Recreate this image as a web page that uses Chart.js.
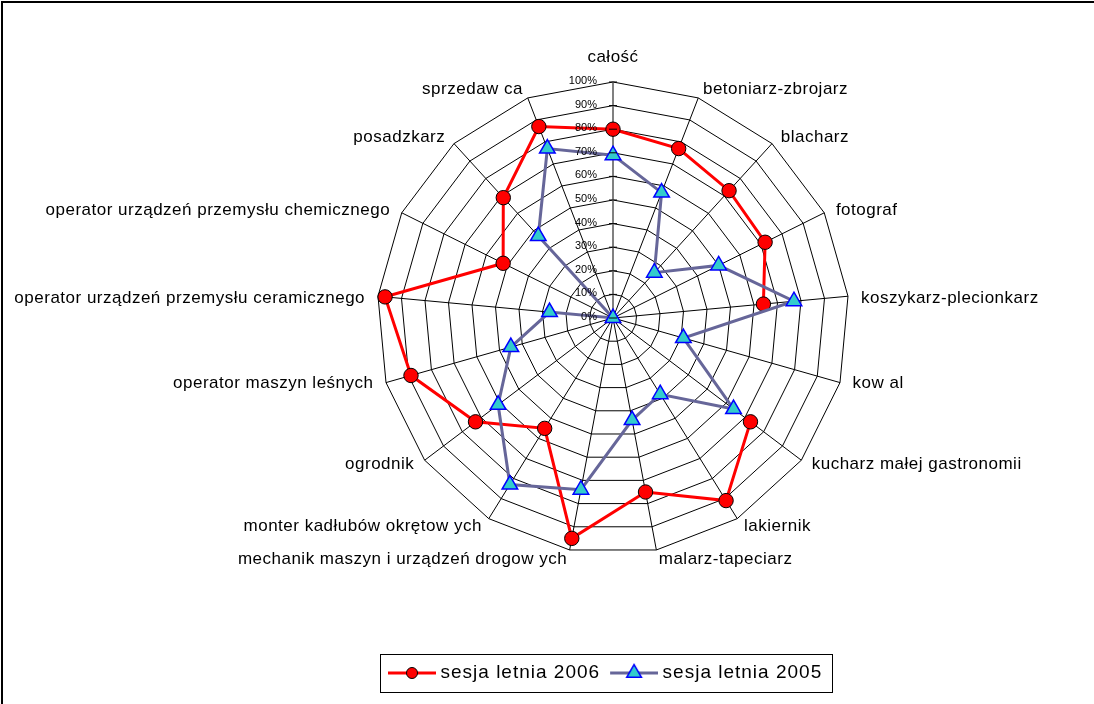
<!DOCTYPE html>
<html>
<head>
<meta charset="utf-8">
<script src="https://cdn.jsdelivr.net/npm/chart.js@4.4.0/dist/chart.umd.min.js"></script>
<style>
html, body { margin: 0; padding: 0; background: #fff; }
canvas { display: block; }
</style>
</head>
<body>
<canvas id="radarChart" width="1094" height="704"></canvas>
<script>
//CATEGORIES (CLOCKWISE FROM THE TOP)
const categories = [
	"całość",
	"betoniarz-zbrojarz",
	"blacharz",
	"fotograf",
	"koszykarz-plecionkarz",
	"kow al",
	"kucharz małej gastronomii",
	"lakiernik",
	"malarz-tapeciarz",
	"mechanik maszyn i urządzeń drogow ych",
	"monter kadłubów okrętow ych",
	"ogrodnik",
	"operator maszyn leśnych",
	"operator urządzeń przemysłu ceramicznego",
	"operator urządzeń przemysłu chemicznego",
	"posadzkarz",
	"sprzedaw ca",
];
//SERIES VALUES IN %
const session2006 = [80, 77, 73, 72, 64, null, 73, 91, 75, 95, 55, 73, 89, 97, 52, 69, 87];
const session2005 = [69, 57, 26, 50, 77, 31, 64, 38, 44, 74, 83, 61, 45, 27, 0, 47, 77];
const seriesNames = ["sesja letnia 2006", "sesja letnia 2005"];
//VALUE AXIS
const tickValues = [0, 10, 20, 30, 40, 50, 60, 70, 80, 90, 100];
const tickLabels = ["0%", "10%", "20%", "30%", "40%", "50%", "60%", "70%", "80%", "90%", "100%"];

const FONT = '"Liberation Sans", Arial, sans-serif';
Chart.defaults.font.family = FONT;

//  LEGEND SYMBOLS (LINE WITH MARKER)
const legendSymbol = (lineColor, pointOpts, fill, stroke) => {
	const cv = document.createElement("canvas");
	cv.width = 60;
	cv.height = 20;
	const g = cv.getContext("2d");
	g.strokeStyle = lineColor;
	g.lineWidth = 3;
	g.beginPath();
	g.moveTo(12, 10);
	g.lineTo(60, 10);
	g.stroke();
	g.fillStyle = fill;
	g.strokeStyle = stroke;
	g.lineWidth = pointOpts.borderWidth;
	Chart.helpers.drawPoint(g, pointOpts, 36, 10);
	return cv;
};
const symbols = [
	legendSymbol("#FF0000", { pointStyle: "circle", radius: 5.5, borderWidth: 1 }, "#FF0000", "#000000"),
	legendSymbol("#666699", { pointStyle: "triangle", radius: 8.5, borderWidth: 1.5 }, "#33CCCC", "#0000FF"),
];

//  DECORATION: FRAME, VALUE AXIS LABELS, CATEGORY LABELS, LEGEND BOX
const radarDecor = {
	id: "radarDecor",
	afterLayout(chart) {
		const lg = chart.legend;
		lg.left = 378;
		lg.top = 660.5;
		lg.bottom = lg.top + lg.height;
	},
	beforeDraw(chart) {
		const c = chart.ctx;
		c.save();
		c.fillStyle = "#fff";
		c.fillRect(0, 0, chart.width, chart.height);
		c.restore();
		c.letterSpacing = "1px";
	},
	afterDraw(chart) {
		const c = chart.ctx;
		const r = chart.scales.r;
		c.save();
		//tick marks + labels on the value axis
		c.letterSpacing = "0px";
		c.font = "11px " + FONT;
		c.textAlign = "right";
		c.textBaseline = "middle";
		c.fillStyle = "#000";
		c.strokeStyle = "#000";
		c.lineWidth = 1;
		tickValues.forEach((v, i) => {
			const y = r.yCenter - r.getDistanceFromCenterForValue(v);
			c.beginPath();
			c.moveTo(r.xCenter - 4, y);
			c.lineTo(r.xCenter + 4, y);
			c.stroke();
			c.fillText(tickLabels[i], r.xCenter - 16, y - 1);
		});
		//category labels
		c.font = "17px " + FONT;
		c.letterSpacing = "0.5px";
		categories.forEach((name, i) => {
			const a = r.getIndexAngle(i);
			const s = Math.sin(a);
			const co = Math.cos(a);
			const p = r.getPointPosition(i, r.drawingArea + 13);
			let y = p.y + (co > 0 ? 3 : -3.3);
			let align = "center";
			if (Math.abs(s) < 0.05) {
				y = co > 0 ? p.y - 12 : p.y + 12;
			} else {
				align = s > 0 ? "left" : "right";
			}
			c.textAlign = align;
			c.fillText(name, p.x, y);
		});
		//legend frame
		c.lineWidth = 1;
		c.strokeStyle = "#000";
		c.strokeRect(380.5, 654.5, 452, 38);
		//outer frame (top + left)
		c.lineWidth = 2;
		c.beginPath();
		c.moveTo(2, 704);
		c.lineTo(2, 2);
		c.lineTo(1094, 2);
		c.stroke();
		c.restore();
	},
};

var radar = document.getElementById("radarChart").getContext("2d");
var myRadar = new Chart(radar, {
	type: "radar",
	data: {
		labels: categories,
		datasets: [
			{
				label: seriesNames[0],
				data: session2006,
				order: 1,
				borderColor: "#FF0000",
				backgroundColor: "#FF0000",
				borderWidth: 3,
				fill: false,
				spanGaps: false,
				pointStyle: "circle",
				pointRadius: 7.2,
				pointBackgroundColor: "#FF0000",
				pointBorderColor: "#000000",
				pointBorderWidth: 1,
			},
			{
				label: seriesNames[1],
				data: session2005,
				order: 0,
				borderColor: "#666699",
				backgroundColor: "#666699",
				borderWidth: 3,
				fill: false,
				pointStyle: "triangle",
				pointRadius: 9,
				pointBackgroundColor: "#33CCCC",
				pointBorderColor: "#0000FF",
				pointBorderWidth: 1.5,
			},
		],
	},
	options: {
		responsive: false,
		animation: false,
		devicePixelRatio: 1,
		layout: {
			padding: { left: 132, right: 0, top: 82, bottom: 118 },
		},
		scales: {
			r: {
				min: 0,
				max: 100,
				startAngle: 0,
				afterBuildTicks: (scale) => {
					scale.ticks = tickValues.map((v) => ({ value: v }));
				},
				ticks: { display: false, stepSize: 10 },
				pointLabels: { display: false },
				grid: { circular: false, color: "#000", lineWidth: 1 },
				angleLines: {
					color: (ctx) => (ctx.index === 0 ? "#808080" : "#000"),
					lineWidth: (ctx) => (ctx.index === 0 ? 2 : 1),
				},
			},
		},
		plugins: {
			tooltip: { enabled: false },
			legend: {
				position: "bottom",
				align: "start",
				labels: {
					usePointStyle: true,
					pointStyleWidth: 50,
					padding: 3,
					color: "#000",
					font: { size: 19 },
					generateLabels: (chart) =>
						chart.data.datasets.map((ds, i) => ({
							text: ds.label,
							datasetIndex: i,
							pointStyle: symbols[i],
							lineWidth: 0,
							fillStyle: "transparent",
							strokeStyle: "transparent",
							fontColor: "#000",
							hidden: false,
						})),
				},
			},
		},
	},
	plugins: [radarDecor],
});
</script>
</body>
</html>
